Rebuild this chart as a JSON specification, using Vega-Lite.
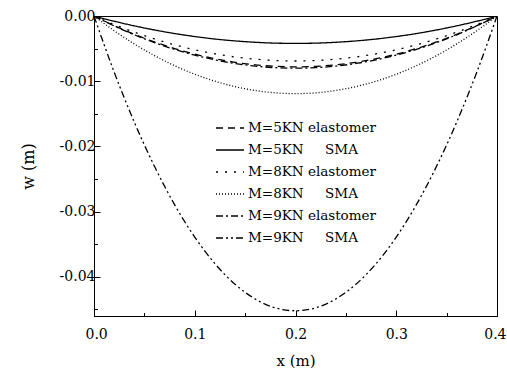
{
 "$schema": "https://vega.github.io/schema/vega-lite/v6.json",
 "width": 403, "height": 300,
 "autosize": {"type": "none"},
 "padding": {"left": 94, "top": 16, "right": 10, "bottom": 56},
 "background": "white",
 "config": {
  "view": {"stroke": "black", "strokeWidth": 1},
  "font": "DejaVu Serif",
  "axis": {"grid": false, "domainColor": "black", "domainWidth": 1, "tickColor": "black", "tickWidth": 1,
           "labelFont": "DejaVu Serif", "labelFontSize": 14, "labelColor": "black",
           "titleFont": "DejaVu Serif", "titleFontWeight": "normal", "titleColor": "black"}
 },
 "data": {"values": [
  {"x":0,"w":0,"s":"M=5KN elastomer"},{"x":0.02,"w":-0.00148,"s":"M=5KN elastomer"},{"x":0.04,"w":-0.00281,"s":"M=5KN elastomer"},{"x":0.06,"w":-0.00398,"s":"M=5KN elastomer"},{"x":0.08,"w":-0.00499,"s":"M=5KN elastomer"},{"x":0.1,"w":-0.00585,"s":"M=5KN elastomer"},{"x":0.12,"w":-0.00655,"s":"M=5KN elastomer"},{"x":0.14,"w":-0.0071,"s":"M=5KN elastomer"},{"x":0.16,"w":-0.00749,"s":"M=5KN elastomer"},{"x":0.18,"w":-0.00772,"s":"M=5KN elastomer"},{"x":0.2,"w":-0.0078,"s":"M=5KN elastomer"},{"x":0.22,"w":-0.00772,"s":"M=5KN elastomer"},{"x":0.24,"w":-0.00749,"s":"M=5KN elastomer"},{"x":0.26,"w":-0.0071,"s":"M=5KN elastomer"},{"x":0.28,"w":-0.00655,"s":"M=5KN elastomer"},{"x":0.3,"w":-0.00585,"s":"M=5KN elastomer"},{"x":0.32,"w":-0.00499,"s":"M=5KN elastomer"},{"x":0.34,"w":-0.00398,"s":"M=5KN elastomer"},{"x":0.36,"w":-0.00281,"s":"M=5KN elastomer"},{"x":0.38,"w":-0.00148,"s":"M=5KN elastomer"},{"x":0.4,"w":0,"s":"M=5KN elastomer"},
  {"x":0,"w":0,"s":"M=5KN\u00a0\u00a0\u00a0\u00a0\u00a0SMA"},{"x":0.02,"w":-0.0008,"s":"M=5KN\u00a0\u00a0\u00a0\u00a0\u00a0SMA"},{"x":0.04,"w":-0.00151,"s":"M=5KN\u00a0\u00a0\u00a0\u00a0\u00a0SMA"},{"x":0.06,"w":-0.00214,"s":"M=5KN\u00a0\u00a0\u00a0\u00a0\u00a0SMA"},{"x":0.08,"w":-0.00269,"s":"M=5KN\u00a0\u00a0\u00a0\u00a0\u00a0SMA"},{"x":0.1,"w":-0.00315,"s":"M=5KN\u00a0\u00a0\u00a0\u00a0\u00a0SMA"},{"x":0.12,"w":-0.00353,"s":"M=5KN\u00a0\u00a0\u00a0\u00a0\u00a0SMA"},{"x":0.14,"w":-0.00382,"s":"M=5KN\u00a0\u00a0\u00a0\u00a0\u00a0SMA"},{"x":0.16,"w":-0.00403,"s":"M=5KN\u00a0\u00a0\u00a0\u00a0\u00a0SMA"},{"x":0.18,"w":-0.00416,"s":"M=5KN\u00a0\u00a0\u00a0\u00a0\u00a0SMA"},{"x":0.2,"w":-0.0042,"s":"M=5KN\u00a0\u00a0\u00a0\u00a0\u00a0SMA"},{"x":0.22,"w":-0.00416,"s":"M=5KN\u00a0\u00a0\u00a0\u00a0\u00a0SMA"},{"x":0.24,"w":-0.00403,"s":"M=5KN\u00a0\u00a0\u00a0\u00a0\u00a0SMA"},{"x":0.26,"w":-0.00382,"s":"M=5KN\u00a0\u00a0\u00a0\u00a0\u00a0SMA"},{"x":0.28,"w":-0.00353,"s":"M=5KN\u00a0\u00a0\u00a0\u00a0\u00a0SMA"},{"x":0.3,"w":-0.00315,"s":"M=5KN\u00a0\u00a0\u00a0\u00a0\u00a0SMA"},{"x":0.32,"w":-0.00269,"s":"M=5KN\u00a0\u00a0\u00a0\u00a0\u00a0SMA"},{"x":0.34,"w":-0.00214,"s":"M=5KN\u00a0\u00a0\u00a0\u00a0\u00a0SMA"},{"x":0.36,"w":-0.00151,"s":"M=5KN\u00a0\u00a0\u00a0\u00a0\u00a0SMA"},{"x":0.38,"w":-0.0008,"s":"M=5KN\u00a0\u00a0\u00a0\u00a0\u00a0SMA"},{"x":0.4,"w":0,"s":"M=5KN\u00a0\u00a0\u00a0\u00a0\u00a0SMA"},
  {"x":0,"w":0,"s":"M=8KN elastomer"},{"x":0.02,"w":-0.00131,"s":"M=8KN elastomer"},{"x":0.04,"w":-0.00248,"s":"M=8KN elastomer"},{"x":0.06,"w":-0.00352,"s":"M=8KN elastomer"},{"x":0.08,"w":-0.00442,"s":"M=8KN elastomer"},{"x":0.1,"w":-0.00518,"s":"M=8KN elastomer"},{"x":0.12,"w":-0.0058,"s":"M=8KN elastomer"},{"x":0.14,"w":-0.00628,"s":"M=8KN elastomer"},{"x":0.16,"w":-0.00662,"s":"M=8KN elastomer"},{"x":0.18,"w":-0.00683,"s":"M=8KN elastomer"},{"x":0.2,"w":-0.0069,"s":"M=8KN elastomer"},{"x":0.22,"w":-0.00683,"s":"M=8KN elastomer"},{"x":0.24,"w":-0.00662,"s":"M=8KN elastomer"},{"x":0.26,"w":-0.00628,"s":"M=8KN elastomer"},{"x":0.28,"w":-0.0058,"s":"M=8KN elastomer"},{"x":0.3,"w":-0.00518,"s":"M=8KN elastomer"},{"x":0.32,"w":-0.00442,"s":"M=8KN elastomer"},{"x":0.34,"w":-0.00352,"s":"M=8KN elastomer"},{"x":0.36,"w":-0.00248,"s":"M=8KN elastomer"},{"x":0.38,"w":-0.00131,"s":"M=8KN elastomer"},{"x":0.4,"w":0,"s":"M=8KN elastomer"},
  {"x":0,"w":0,"s":"M=8KN\u00a0\u00a0\u00a0\u00a0\u00a0SMA"},{"x":0.02,"w":-0.00226,"s":"M=8KN\u00a0\u00a0\u00a0\u00a0\u00a0SMA"},{"x":0.04,"w":-0.00428,"s":"M=8KN\u00a0\u00a0\u00a0\u00a0\u00a0SMA"},{"x":0.06,"w":-0.00607,"s":"M=8KN\u00a0\u00a0\u00a0\u00a0\u00a0SMA"},{"x":0.08,"w":-0.00762,"s":"M=8KN\u00a0\u00a0\u00a0\u00a0\u00a0SMA"},{"x":0.1,"w":-0.00893,"s":"M=8KN\u00a0\u00a0\u00a0\u00a0\u00a0SMA"},{"x":0.12,"w":-0.01,"s":"M=8KN\u00a0\u00a0\u00a0\u00a0\u00a0SMA"},{"x":0.14,"w":-0.01083,"s":"M=8KN\u00a0\u00a0\u00a0\u00a0\u00a0SMA"},{"x":0.16,"w":-0.01142,"s":"M=8KN\u00a0\u00a0\u00a0\u00a0\u00a0SMA"},{"x":0.18,"w":-0.01178,"s":"M=8KN\u00a0\u00a0\u00a0\u00a0\u00a0SMA"},{"x":0.2,"w":-0.0119,"s":"M=8KN\u00a0\u00a0\u00a0\u00a0\u00a0SMA"},{"x":0.22,"w":-0.01178,"s":"M=8KN\u00a0\u00a0\u00a0\u00a0\u00a0SMA"},{"x":0.24,"w":-0.01142,"s":"M=8KN\u00a0\u00a0\u00a0\u00a0\u00a0SMA"},{"x":0.26,"w":-0.01083,"s":"M=8KN\u00a0\u00a0\u00a0\u00a0\u00a0SMA"},{"x":0.28,"w":-0.01,"s":"M=8KN\u00a0\u00a0\u00a0\u00a0\u00a0SMA"},{"x":0.3,"w":-0.00893,"s":"M=8KN\u00a0\u00a0\u00a0\u00a0\u00a0SMA"},{"x":0.32,"w":-0.00762,"s":"M=8KN\u00a0\u00a0\u00a0\u00a0\u00a0SMA"},{"x":0.34,"w":-0.00607,"s":"M=8KN\u00a0\u00a0\u00a0\u00a0\u00a0SMA"},{"x":0.36,"w":-0.00428,"s":"M=8KN\u00a0\u00a0\u00a0\u00a0\u00a0SMA"},{"x":0.38,"w":-0.00226,"s":"M=8KN\u00a0\u00a0\u00a0\u00a0\u00a0SMA"},{"x":0.4,"w":0,"s":"M=8KN\u00a0\u00a0\u00a0\u00a0\u00a0SMA"},
  {"x":0,"w":0,"s":"M=9KN elastomer"},{"x":0.02,"w":-0.00152,"s":"M=9KN elastomer"},{"x":0.04,"w":-0.00288,"s":"M=9KN elastomer"},{"x":0.06,"w":-0.00408,"s":"M=9KN elastomer"},{"x":0.08,"w":-0.00512,"s":"M=9KN elastomer"},{"x":0.1,"w":-0.006,"s":"M=9KN elastomer"},{"x":0.12,"w":-0.00672,"s":"M=9KN elastomer"},{"x":0.14,"w":-0.00728,"s":"M=9KN elastomer"},{"x":0.16,"w":-0.00768,"s":"M=9KN elastomer"},{"x":0.18,"w":-0.00792,"s":"M=9KN elastomer"},{"x":0.2,"w":-0.008,"s":"M=9KN elastomer"},{"x":0.22,"w":-0.00792,"s":"M=9KN elastomer"},{"x":0.24,"w":-0.00768,"s":"M=9KN elastomer"},{"x":0.26,"w":-0.00728,"s":"M=9KN elastomer"},{"x":0.28,"w":-0.00672,"s":"M=9KN elastomer"},{"x":0.3,"w":-0.006,"s":"M=9KN elastomer"},{"x":0.32,"w":-0.00512,"s":"M=9KN elastomer"},{"x":0.34,"w":-0.00408,"s":"M=9KN elastomer"},{"x":0.36,"w":-0.00288,"s":"M=9KN elastomer"},{"x":0.38,"w":-0.00152,"s":"M=9KN elastomer"},{"x":0.4,"w":0,"s":"M=9KN elastomer"},
  {"x":0,"w":0,"s":"M=9KN\u00a0\u00a0\u00a0\u00a0\u00a0SMA"},{"x":0.02,"w":-0.00859,"s":"M=9KN\u00a0\u00a0\u00a0\u00a0\u00a0SMA"},{"x":0.04,"w":-0.01627,"s":"M=9KN\u00a0\u00a0\u00a0\u00a0\u00a0SMA"},{"x":0.06,"w":-0.02305,"s":"M=9KN\u00a0\u00a0\u00a0\u00a0\u00a0SMA"},{"x":0.08,"w":-0.02893,"s":"M=9KN\u00a0\u00a0\u00a0\u00a0\u00a0SMA"},{"x":0.1,"w":-0.0339,"s":"M=9KN\u00a0\u00a0\u00a0\u00a0\u00a0SMA"},{"x":0.12,"w":-0.03797,"s":"M=9KN\u00a0\u00a0\u00a0\u00a0\u00a0SMA"},{"x":0.14,"w":-0.04113,"s":"M=9KN\u00a0\u00a0\u00a0\u00a0\u00a0SMA"},{"x":0.16,"w":-0.04339,"s":"M=9KN\u00a0\u00a0\u00a0\u00a0\u00a0SMA"},{"x":0.18,"w":-0.04475,"s":"M=9KN\u00a0\u00a0\u00a0\u00a0\u00a0SMA"},{"x":0.2,"w":-0.0452,"s":"M=9KN\u00a0\u00a0\u00a0\u00a0\u00a0SMA"},{"x":0.22,"w":-0.04475,"s":"M=9KN\u00a0\u00a0\u00a0\u00a0\u00a0SMA"},{"x":0.24,"w":-0.04339,"s":"M=9KN\u00a0\u00a0\u00a0\u00a0\u00a0SMA"},{"x":0.26,"w":-0.04113,"s":"M=9KN\u00a0\u00a0\u00a0\u00a0\u00a0SMA"},{"x":0.28,"w":-0.03797,"s":"M=9KN\u00a0\u00a0\u00a0\u00a0\u00a0SMA"},{"x":0.3,"w":-0.0339,"s":"M=9KN\u00a0\u00a0\u00a0\u00a0\u00a0SMA"},{"x":0.32,"w":-0.02893,"s":"M=9KN\u00a0\u00a0\u00a0\u00a0\u00a0SMA"},{"x":0.34,"w":-0.02305,"s":"M=9KN\u00a0\u00a0\u00a0\u00a0\u00a0SMA"},{"x":0.36,"w":-0.01627,"s":"M=9KN\u00a0\u00a0\u00a0\u00a0\u00a0SMA"},{"x":0.38,"w":-0.00859,"s":"M=9KN\u00a0\u00a0\u00a0\u00a0\u00a0SMA"},{"x":0.4,"w":0,"s":"M=9KN\u00a0\u00a0\u00a0\u00a0\u00a0SMA"}
 ]},
 "layer": [
  {
   "mark": {"type": "line", "interpolate": "monotone", "strokeWidth": 1.3, "color": "black", "clip": true},
   "encoding": {
    "x": {"field": "x", "type": "quantitative", "scale": {"domain": [0, 0.4], "nice": false, "zero": false, "padding": 0},
          "axis": {"orient": "bottom", "values": [0, 0.1, 0.2, 0.3, 0.4], "format": ".1f", "title": "x (m)",
                   "labelFlush": true, "labelFlushOffset": 9,
                   "tickSize": -6, "labelPadding": 17, "titleFontSize": 15, "titlePadding": 12}},
    "y": {"field": "w", "type": "quantitative", "scale": {"domain": [-0.046, 0], "nice": false, "zero": false, "padding": 0},
          "axis": {"orient": "left", "values": [0, -0.01, -0.02, -0.03, -0.04], "labelFlush": false,
                   "labelExpr": "(datum.value < -0.0001 ? '-' : '') + format(abs(datum.value), '.2f')",
                   "title": "w (m)", "tickSize": -6, "labelPadding": 5, "titleFontSize": 16, "titlePadding": 23}},
    "strokeDash": {"field": "s", "type": "nominal",
     "scale": {"domain": ["M=5KN elastomer", "M=5KN\u00a0\u00a0\u00a0\u00a0\u00a0SMA", "M=8KN elastomer", "M=8KN\u00a0\u00a0\u00a0\u00a0\u00a0SMA", "M=9KN elastomer", "M=9KN\u00a0\u00a0\u00a0\u00a0\u00a0SMA"],
               "range": [[7, 5], [1, 0], [2, 7], [1, 2], [7, 3, 2, 3], [7, 3, 2, 3, 2, 3]]},
     "legend": {"title": null, "orient": "none", "legendX": 121, "legendY": 97, "symbolType": "stroke",
                "symbolSize": 784, "symbolStrokeWidth": 1.3, "symbolStrokeColor": "black",
                "labelFont": "DejaVu Serif", "labelFontSize": 13.5, "labelColor": "black",
                "labelOffset": 3, "rowPadding": -2.5}}
   }
  },
  {
   "mark": {"type": "line", "opacity": 0},
   "encoding": {
    "x": {"field": "x", "type": "quantitative", "scale": {"domain": [0, 0.4], "nice": false, "zero": false, "padding": 0},
          "axis": {"orient": "bottom", "values": [0.05, 0.15, 0.25, 0.35], "labels": false, "domain": false, "title": null, "tickSize": -3.5}},
    "y": {"field": "w", "type": "quantitative", "scale": {"domain": [-0.046, 0], "nice": false, "zero": false, "padding": 0},
          "axis": {"orient": "left", "values": [-0.005, -0.015, -0.025, -0.035, -0.045], "labels": false, "domain": false, "title": null, "tickSize": -3.5}},
    "detail": {"field": "s"}
   }
  }
 ],
 "resolve": {"scale": {"x": "shared", "y": "shared"}, "axis": {"x": "independent", "y": "independent"}}
}
